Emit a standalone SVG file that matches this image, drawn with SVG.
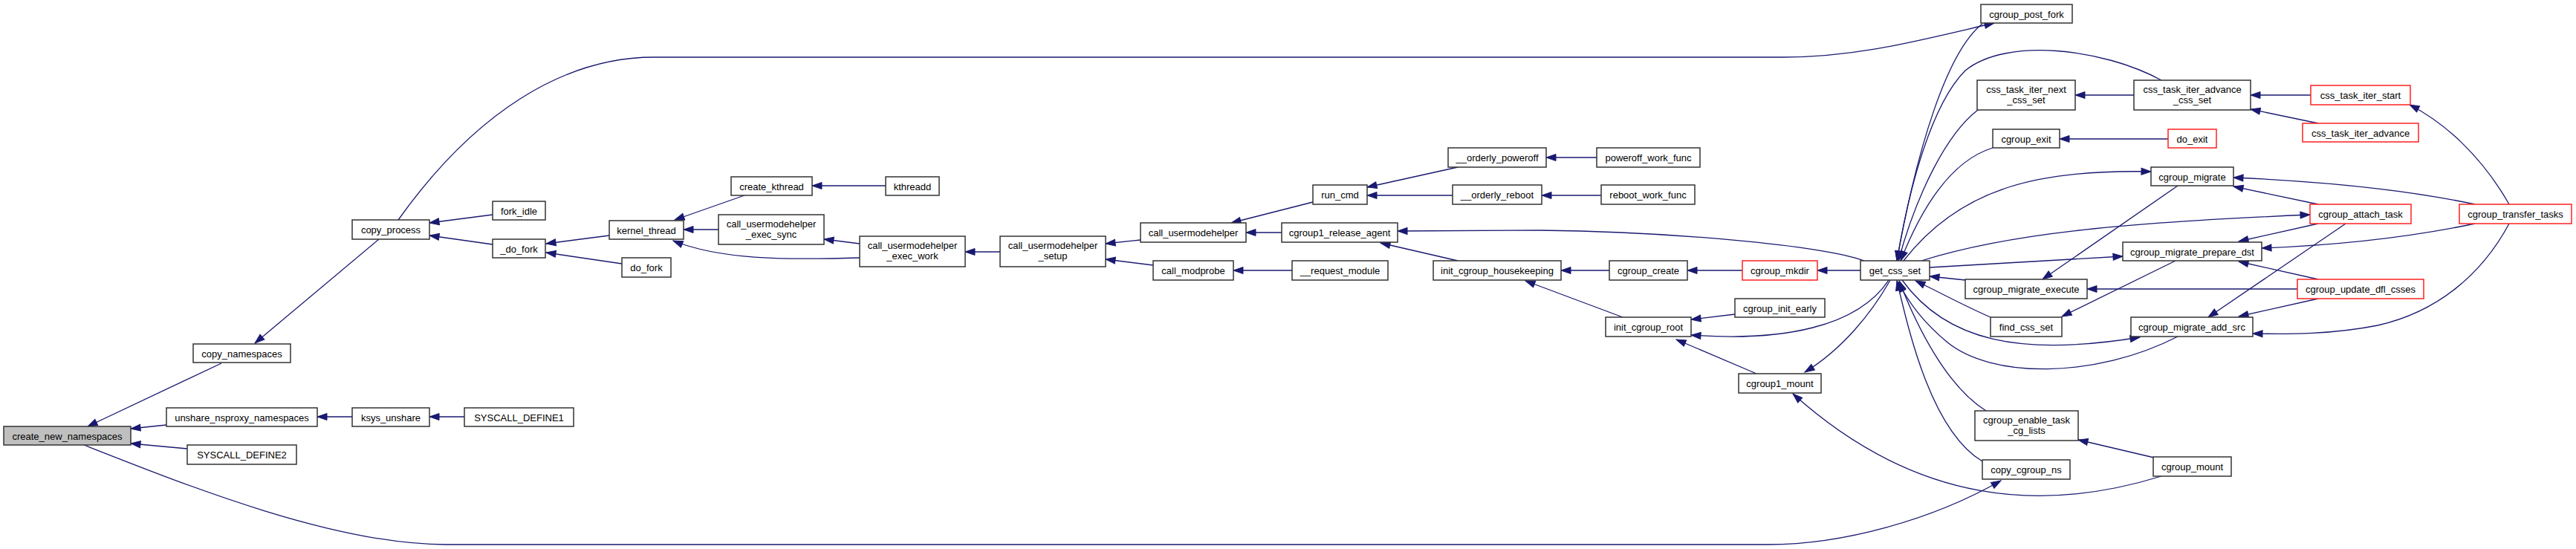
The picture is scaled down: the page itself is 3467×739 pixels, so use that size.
<svg xmlns="http://www.w3.org/2000/svg" width="3467" height="739" viewBox="0 0 3467 739">
<style>
.n rect{fill:#fff;stroke:#333;stroke-width:1.5}
.root rect{fill:#bfbfbf}
.red rect{stroke:#ff2020}
text{font-family:"Liberation Sans",Arial,Helvetica,sans-serif;font-size:13px;fill:#000;text-anchor:middle}
#edges path{fill:none;stroke:#191970;stroke-width:1.3;marker-end:url(#a)}
</style>
<defs>
<marker id="a" markerUnits="userSpaceOnUse" markerWidth="14" markerHeight="10" refX="13" refY="4.5" orient="auto" overflow="visible">
<path d="M0,0 L13,4.5 L0,9 z" fill="#191970" stroke="#191970" stroke-width="1"/>
</marker>
</defs>
<rect width="3467" height="739" fill="#fff"/>
<g id="edges">
<path d="M298,489 L118,574"/>
<path d="M224,572 L176,577"/>
<path d="M252,604 L176,597"/>
<path d="M474,561 L427,561"/>
<path d="M625,561 L578,561"/>
<path d="M113,599 C250,653 450,733 600,733 L2380,733 C2480,733 2600,700 2693,647"/>
<path d="M536,296 C640,150 760,77 880,77 L2400,77 C2500,77 2580,55 2684,31"/>
<path d="M510,322 L343,462"/>
<path d="M663,289 L578,300"/>
<path d="M663,329 L578,317"/>
<path d="M820,317 L735,328"/>
<path d="M837,355 L735,340"/>
<path d="M1002,263 L908,296"/>
<path d="M967,309 L920,309"/>
<path d="M1157,347 C1060,350 970,350 906,324"/>
<path d="M1157,328 L1109,322"/>
<path d="M1192,250 L1093,250"/>
<path d="M1346,339 L1299,339"/>
<path d="M1535,323 L1488,328"/>
<path d="M1552,357 L1488,349"/>
<path d="M1767,272 L1657,300"/>
<path d="M1725,313 L1677,313"/>
<path d="M1739,364 L1660,364"/>
<path d="M1962,225 L1840,252"/>
<path d="M1955,263 L1840,263"/>
<path d="M2149,212 L2081,212"/>
<path d="M2155,263 L2075,263"/>
<path d="M2509,351 C2450,330 2250,312 2073,310 L1881,311"/>
<path d="M1962,351 L1858,327"/>
<path d="M2166,364 L2101,364"/>
<path d="M2345,364 L2271,364"/>
<path d="M2504,364 L2446,364"/>
<path d="M2184,427 L2053,378"/>
<path d="M2335,423 L2276,430"/>
<path d="M2542,377 C2500,440 2400,460 2276,451"/>
<path d="M2364,503 L2256,457"/>
<path d="M2544,377 C2520,420 2480,470 2429,501"/>
<path d="M2909,641 C2750,690 2580,680 2413,530"/>
<path d="M2668,32 C2620,70 2580,200 2553,351"/>
<path d="M2909,108 C2830,65 2700,50 2645,95 C2600,140 2570,250 2553,351"/>
<path d="M2662,148 C2620,180 2580,260 2555,351"/>
<path d="M2682,199 C2630,215 2590,270 2558,351"/>
<path d="M2562,351 C2640,250 2750,228 2895,231"/>
<path d="M2586,351 C2700,315 2850,300 3109,289"/>
<path d="M2597,360 L2857,345"/>
<path d="M2931,250 L2749,376"/>
<path d="M2645,377 L2597,372"/>
<path d="M2679,427 C2640,410 2610,393 2578,378"/>
<path d="M2560,377 C2620,460 2720,480 2880,454"/>
<path d="M2931,453 C2820,510 2680,510 2620,460 C2590,435 2570,410 2555,380"/>
<path d="M2673,553 C2620,520 2580,440 2556,378"/>
<path d="M2668,621 C2600,580 2570,450 2553,378"/>
<path d="M3092,389 L2809,389"/>
<path d="M2928,351 L2775,426"/>
<path d="M3110,128 L3029,128"/>
<path d="M3120,166 L3029,147"/>
<path d="M2872,128 L2793,128"/>
<path d="M2918,187 L2772,187"/>
<path d="M3377,275 C3340,210 3290,165 3243,141"/>
<path d="M3331,275 C3250,258 3150,245 3006,239"/>
<path d="M3120,275 L3006,251"/>
<path d="M3120,301 L3013,325"/>
<path d="M3331,301 C3250,318 3150,330 3044,334"/>
<path d="M3157,301 L2972,427"/>
<path d="M3120,376 L3013,352"/>
<path d="M3120,402 L3013,426"/>
<path d="M3377,301 C3340,370 3280,420 3200,438 C3140,450 3080,450 3032,449"/>
<path d="M2899,616 L2797,592"/>
</g>
<g id="create_new_namespaces" class="n root"><rect x="5" y="574" width="171" height="25"/><text x="90.5" y="591.5">create_new_namespaces</text></g>
<g id="copy_namespaces" class="n"><rect x="260" y="463" width="131" height="25"/><text x="325.5" y="480.5">copy_namespaces</text></g>
<g id="unshare_nsproxy_namespaces" class="n"><rect x="224" y="549" width="203" height="25"/><text x="325.5" y="566.5">unshare_nsproxy_namespaces</text></g>
<g id="SYSCALL_DEFINE2" class="n"><rect x="252" y="599" width="147" height="26"/><text x="325.5" y="616.5">SYSCALL_DEFINE2</text></g>
<g id="copy_process" class="n"><rect x="474" y="296" width="104" height="26"/><text x="526" y="313.5">copy_process</text></g>
<g id="ksys_unshare" class="n"><rect x="474" y="549" width="104" height="25"/><text x="526" y="566.5">ksys_unshare</text></g>
<g id="fork_idle" class="n"><rect x="663" y="271" width="71" height="25"/><text x="698.5" y="288.5">fork_idle</text></g>
<g id="_do_fork" class="n"><rect x="663" y="322" width="71" height="25"/><text x="698.5" y="339.5">_do_fork</text></g>
<g id="SYSCALL_DEFINE1" class="n"><rect x="625" y="549" width="147" height="25"/><text x="698.5" y="566.5">SYSCALL_DEFINE1</text></g>
<g id="kernel_thread" class="n"><rect x="820" y="297" width="100" height="25"/><text x="870" y="314.5">kernel_thread</text></g>
<g id="do_fork" class="n"><rect x="837" y="347" width="66" height="26"/><text x="870" y="364.5">do_fork</text></g>
<g id="create_kthread" class="n"><rect x="984" y="238" width="109" height="25"/><text x="1038.5" y="255.5">create_kthread</text></g>
<g id="call_usermodehelper_exec_sync" class="n"><rect x="967" y="289" width="142" height="40"/><text x="1038" y="305.5">call_usermodehelper</text><text x="1038" y="319.5">_exec_sync</text></g>
<g id="kthreadd" class="n"><rect x="1192" y="238" width="72" height="25"/><text x="1228" y="255.5">kthreadd</text></g>
<g id="call_usermodehelper_exec_work" class="n"><rect x="1157" y="318" width="142" height="41"/><text x="1228" y="334.5">call_usermodehelper</text><text x="1228" y="348.5">_exec_work</text></g>
<g id="call_usermodehelper_setup" class="n"><rect x="1346" y="318" width="142" height="41"/><text x="1417" y="334.5">call_usermodehelper</text><text x="1417" y="348.5">_setup</text></g>
<g id="call_usermodehelper" class="n"><rect x="1535" y="300" width="142" height="26"/><text x="1606" y="317.5">call_usermodehelper</text></g>
<g id="call_modprobe" class="n"><rect x="1552" y="351" width="108" height="26"/><text x="1606" y="368.5">call_modprobe</text></g>
<g id="run_cmd" class="n"><rect x="1767" y="249" width="73" height="26"/><text x="1803.5" y="266.5">run_cmd</text></g>
<g id="cgroup1_release_agent" class="n"><rect x="1725" y="300" width="156" height="26"/><text x="1803" y="317.5">cgroup1_release_agent</text></g>
<g id="__request_module" class="n"><rect x="1739" y="351" width="129" height="26"/><text x="1803.5" y="368.5">__request_module</text></g>
<g id="__orderly_poweroff" class="n"><rect x="1949" y="199" width="132" height="26"/><text x="2015" y="216.5">__orderly_poweroff</text></g>
<g id="__orderly_reboot" class="n"><rect x="1955" y="249" width="120" height="26"/><text x="2015" y="266.5">__orderly_reboot</text></g>
<g id="init_cgroup_housekeeping" class="n"><rect x="1929" y="351" width="172" height="26"/><text x="2015" y="368.5">init_cgroup_housekeeping</text></g>
<g id="poweroff_work_func" class="n"><rect x="2149" y="199" width="139" height="26"/><text x="2218.5" y="216.5">poweroff_work_func</text></g>
<g id="reboot_work_func" class="n"><rect x="2155" y="249" width="126" height="26"/><text x="2218" y="266.5">reboot_work_func</text></g>
<g id="cgroup_create" class="n"><rect x="2166" y="351" width="105" height="26"/><text x="2218.5" y="368.5">cgroup_create</text></g>
<g id="init_cgroup_root" class="n"><rect x="2161" y="427" width="115" height="26"/><text x="2218.5" y="444.5">init_cgroup_root</text></g>
<g id="cgroup_mkdir" class="n red"><rect x="2345" y="351" width="101" height="26"/><text x="2395.5" y="368.5">cgroup_mkdir</text></g>
<g id="cgroup_init_early" class="n"><rect x="2335" y="402" width="121" height="25"/><text x="2395.5" y="419.5">cgroup_init_early</text></g>
<g id="cgroup1_mount" class="n"><rect x="2340" y="503" width="111" height="26"/><text x="2395.5" y="520.5">cgroup1_mount</text></g>
<g id="get_css_set" class="n"><rect x="2504" y="351" width="93" height="26"/><text x="2550.5" y="368.5">get_css_set</text></g>
<g id="cgroup_post_fork" class="n"><rect x="2666" y="6" width="123" height="25"/><text x="2727.5" y="23.5">cgroup_post_fork</text></g>
<g id="css_task_iter_next_css_set" class="n"><rect x="2661" y="108" width="132" height="40"/><text x="2727" y="124.5">css_task_iter_next</text><text x="2727" y="138.5">_css_set</text></g>
<g id="cgroup_exit" class="n"><rect x="2682" y="174" width="90" height="25"/><text x="2727" y="191.5">cgroup_exit</text></g>
<g id="cgroup_migrate_execute" class="n"><rect x="2645" y="376" width="164" height="26"/><text x="2727" y="393.5">cgroup_migrate_execute</text></g>
<g id="find_css_set" class="n"><rect x="2679" y="427" width="96" height="26"/><text x="2727" y="444.5">find_css_set</text></g>
<g id="cgroup_enable_task_cg_lists" class="n"><rect x="2658" y="553" width="139" height="40"/><text x="2727.5" y="569.5">cgroup_enable_task</text><text x="2727.5" y="583.5">_cg_lists</text></g>
<g id="copy_cgroup_ns" class="n"><rect x="2668" y="619" width="118" height="26"/><text x="2727" y="636.5">copy_cgroup_ns</text></g>
<g id="css_task_iter_advance_css_set" class="n"><rect x="2872" y="108" width="157" height="40"/><text x="2950.5" y="124.5">css_task_iter_advance</text><text x="2950.5" y="138.5">_css_set</text></g>
<g id="do_exit" class="n red"><rect x="2918" y="174" width="65" height="25"/><text x="2950.5" y="191.5">do_exit</text></g>
<g id="cgroup_migrate" class="n"><rect x="2895" y="225" width="111" height="25"/><text x="2950.5" y="242.5">cgroup_migrate</text></g>
<g id="cgroup_migrate_prepare_dst" class="n"><rect x="2857" y="326" width="187" height="25"/><text x="2950.5" y="343.5">cgroup_migrate_prepare_dst</text></g>
<g id="cgroup_migrate_add_src" class="n"><rect x="2868" y="427" width="164" height="26"/><text x="2950" y="444.5">cgroup_migrate_add_src</text></g>
<g id="cgroup_mount" class="n"><rect x="2898" y="615" width="105" height="26"/><text x="2950.5" y="632.5">cgroup_mount</text></g>
<g id="css_task_iter_start" class="n red"><rect x="3110" y="115" width="134" height="26"/><text x="3177" y="132.5">css_task_iter_start</text></g>
<g id="css_task_iter_advance" class="n red"><rect x="3099" y="166" width="156" height="25"/><text x="3177" y="183.5">css_task_iter_advance</text></g>
<g id="cgroup_attach_task" class="n red"><rect x="3109" y="275" width="136" height="26"/><text x="3177" y="292.5">cgroup_attach_task</text></g>
<g id="cgroup_update_dfl_csses" class="n red"><rect x="3092" y="376" width="170" height="26"/><text x="3177" y="393.5">cgroup_update_dfl_csses</text></g>
<g id="cgroup_transfer_tasks" class="n red"><rect x="3310" y="275" width="151" height="26"/><text x="3385.5" y="292.5">cgroup_transfer_tasks</text></g>
</svg>
